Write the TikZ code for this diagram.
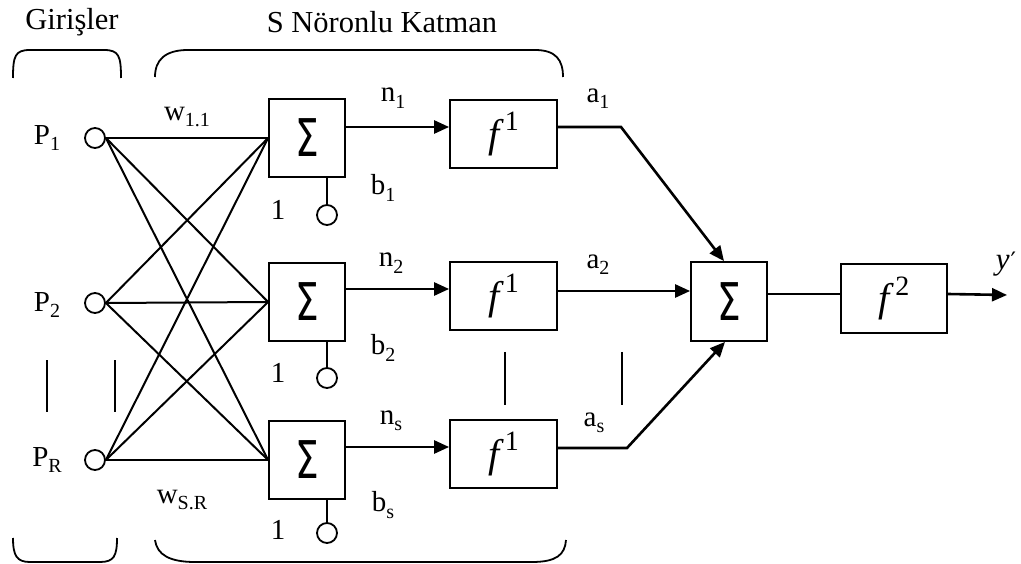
\documentclass[tikz,border=0pt]{standalone}
\usepackage{fontspec}
\setmainfont{Liberation Serif}
\newfontfamily\sigmafont{DejaVu Sans}
\usetikzlibrary{arrows.meta,calc}

% summation sign drawn inside the adder boxes
\newcommand\sumsign{{\sigmafont\fontsize{52}{52}\selectfont\scalebox{0.72}[1]{Σ}}}
% lowered index for the labels
\newcommand\lo[1]{\raisebox{-0.22em}{\fontsize{20}{22}\selectfont #1}}
% activation function name with raised index
\newcommand\actf[1]{\textit{f}\kern1pt\raisebox{0.42em}{\fontsize{28}{30}\selectfont #1}}

\begin{document}
\begin{tikzpicture}[x=1pt,y=-1pt,
  box/.style={draw, line width=1.8pt, rectangle, inner sep=0pt},
  sumbox/.style={box, minimum width=76pt, minimum height=78pt},
  actbox/.style={box, minimum width=107pt, minimum height=68pt,
    font=\fontsize{40}{48}\selectfont},
  port/.style={draw, circle, line width=1.8pt, minimum size=20pt, inner sep=0pt},
  wire/.style={line width=2pt},
  sig/.style={line width=2.6pt, -{Triangle[length=15pt,width=13pt]}},
  lbl/.style={font=\fontsize{29}{34}\selectfont, inner sep=0pt},
  title/.style={font=\fontsize{30.5}{36}\selectfont, inner sep=0pt},
  brace/.style={line width=1.8pt},
  dots/.style={line width=1.8pt},
]
\useasboundingbox (0,0) rectangle (1021,564);

% titles
\node[title] (tin) at (72,22) {Girişler};
\node[title] (tlay) at (382,22) {S Nöronlu Katman};

% braces above and below the input group and the layer
\draw[brace] (13,78) .. controls (13,56) and (15,50) .. (30,50) -- (104,50)
  .. controls (119,50) and (121,56) .. (121,78);
\draw[brace] (155,77) .. controls (155,60) and (165,50) .. (188,50) -- (535,50)
  .. controls (556,50) and (563,60) .. (563,77);
\draw[brace] (13,538) .. controls (13,556) and (17,562) .. (30,562) -- (100,562)
  .. controls (114,562) and (117,556) .. (117,538);
\draw[brace] (155,540) .. controls (157,555) and (170,562) .. (195,562) -- (532,562)
  .. controls (556,562) and (565,555) .. (566,540);

% inputs
\node[port] (p1) at (95,138) {};
\node[port] (p2) at (95,303) {};
\node[port] (p3) at (95,460) {};
\node[lbl] (lp1) at (47,138) {P\lo{1}};
\node[lbl] (lp2) at (47,305) {P\lo{2}};
\node[lbl] (lp3) at (47,460) {P\lo{R}};

% adders of the hidden layer
\node[sumbox] (s1) at (307,138) {\sumsign};
\node[sumbox] (s2) at (307,302) {\sumsign};
\node[sumbox] (s3) at (307,460) {\sumsign};

% weighted connections
\foreach \i in {1,2,3}
  \foreach \j in {1,2,3}
    \draw[wire] (p\i.east) -- (s\j.west);
\node[lbl] (w11) at (187,117) {w\lo{1.1}};
\node[lbl] (wsr) at (182,500) {w\lo{S.R}};

% bias inputs
\node[port] (b1) at (327,215) {};
\node[port] (b2) at (327,378) {};
\node[port] (b3) at (327,533) {};
\foreach \k in {1,2,3}
  \draw[wire] (b\k.north) -- (b\k.north |- s\k.south);
\node[lbl] (one1) at (278,210) {1};
\node[lbl] (one2) at (278,373) {1};
\node[lbl] (one3) at (278,530) {1};
\node[lbl] (lb1) at (383,188) {b\lo{1}};
\node[lbl] (lb2) at (383,348) {b\lo{2}};
\node[lbl] (lb3) at (383,505) {b\lo{s}};

% activation boxes of the hidden layer
\node[actbox] (f1) at (503.5,134) {\actf{1}};
\node[actbox] (f2) at (503.5,296) {\actf{1}};
\node[actbox] (f3) at (503.5,454) {\actf{1}};
\foreach \k in {1,2,3} {
  \coordinate (nin\k) at ([yshift=7pt]f\k.west);
  \draw[sig] (nin\k -| s\k.east) -- (nin\k);
}
\node[lbl] (ln1) at (393,98) {n\lo{1}};
\node[lbl] (ln2) at (391,263) {n\lo{2}};
\node[lbl] (ln3) at (391,421) {n\lo{s}};

% output adder and activation
\node[sumbox, minimum height=79pt] (o) at (729,301.5) {\sumsign};
\node[actbox, minimum width=106pt, minimum height=69pt] (g) at (894,298.5) {\actf{2}};

\coordinate (k1) at (621,127);
\coordinate (k3) at (627,448);
\draw[sig] ([yshift=7pt]f1.east) -- (k1) -- ([xshift=-5pt]o.north);
\coordinate (a2out) at ([yshift=5pt]f2.east);
\draw[sig] (a2out) -- (a2out -| o.west);
\draw[sig] ([yshift=6pt]f3.east) -- (k3) -- ([xshift=-4pt]o.south);
\node[lbl] (la1) at (598,99) {a\lo{1}};
\node[lbl] (la2) at (598,265) {a\lo{2}};
\node[lbl] (la3) at (594,423) {a\lo{s}};

\coordinate (oc) at ([yshift=7.5pt]o.east);
\draw[wire] (oc) -- (oc -| g.west);
\coordinate (yend) at (1007,295);
\draw[sig] (oc -| g.east) -- (yend);
\node[font=\fontsize{31}{36}\selectfont, inner sep=0pt] (ly) at (1006,264)
  {\textit{y}\kern1pt{\sigmafont\fontsize{24}{26}\selectfont ′}};

% ellipsis bars
\draw[dots] (47,360) -- (47,412);
\draw[dots] (115,360) -- (115,412);
\draw[dots] (505,352) -- (505,405);
\draw[dots] (622,352) -- (622,405);
\end{tikzpicture}
\end{document}
